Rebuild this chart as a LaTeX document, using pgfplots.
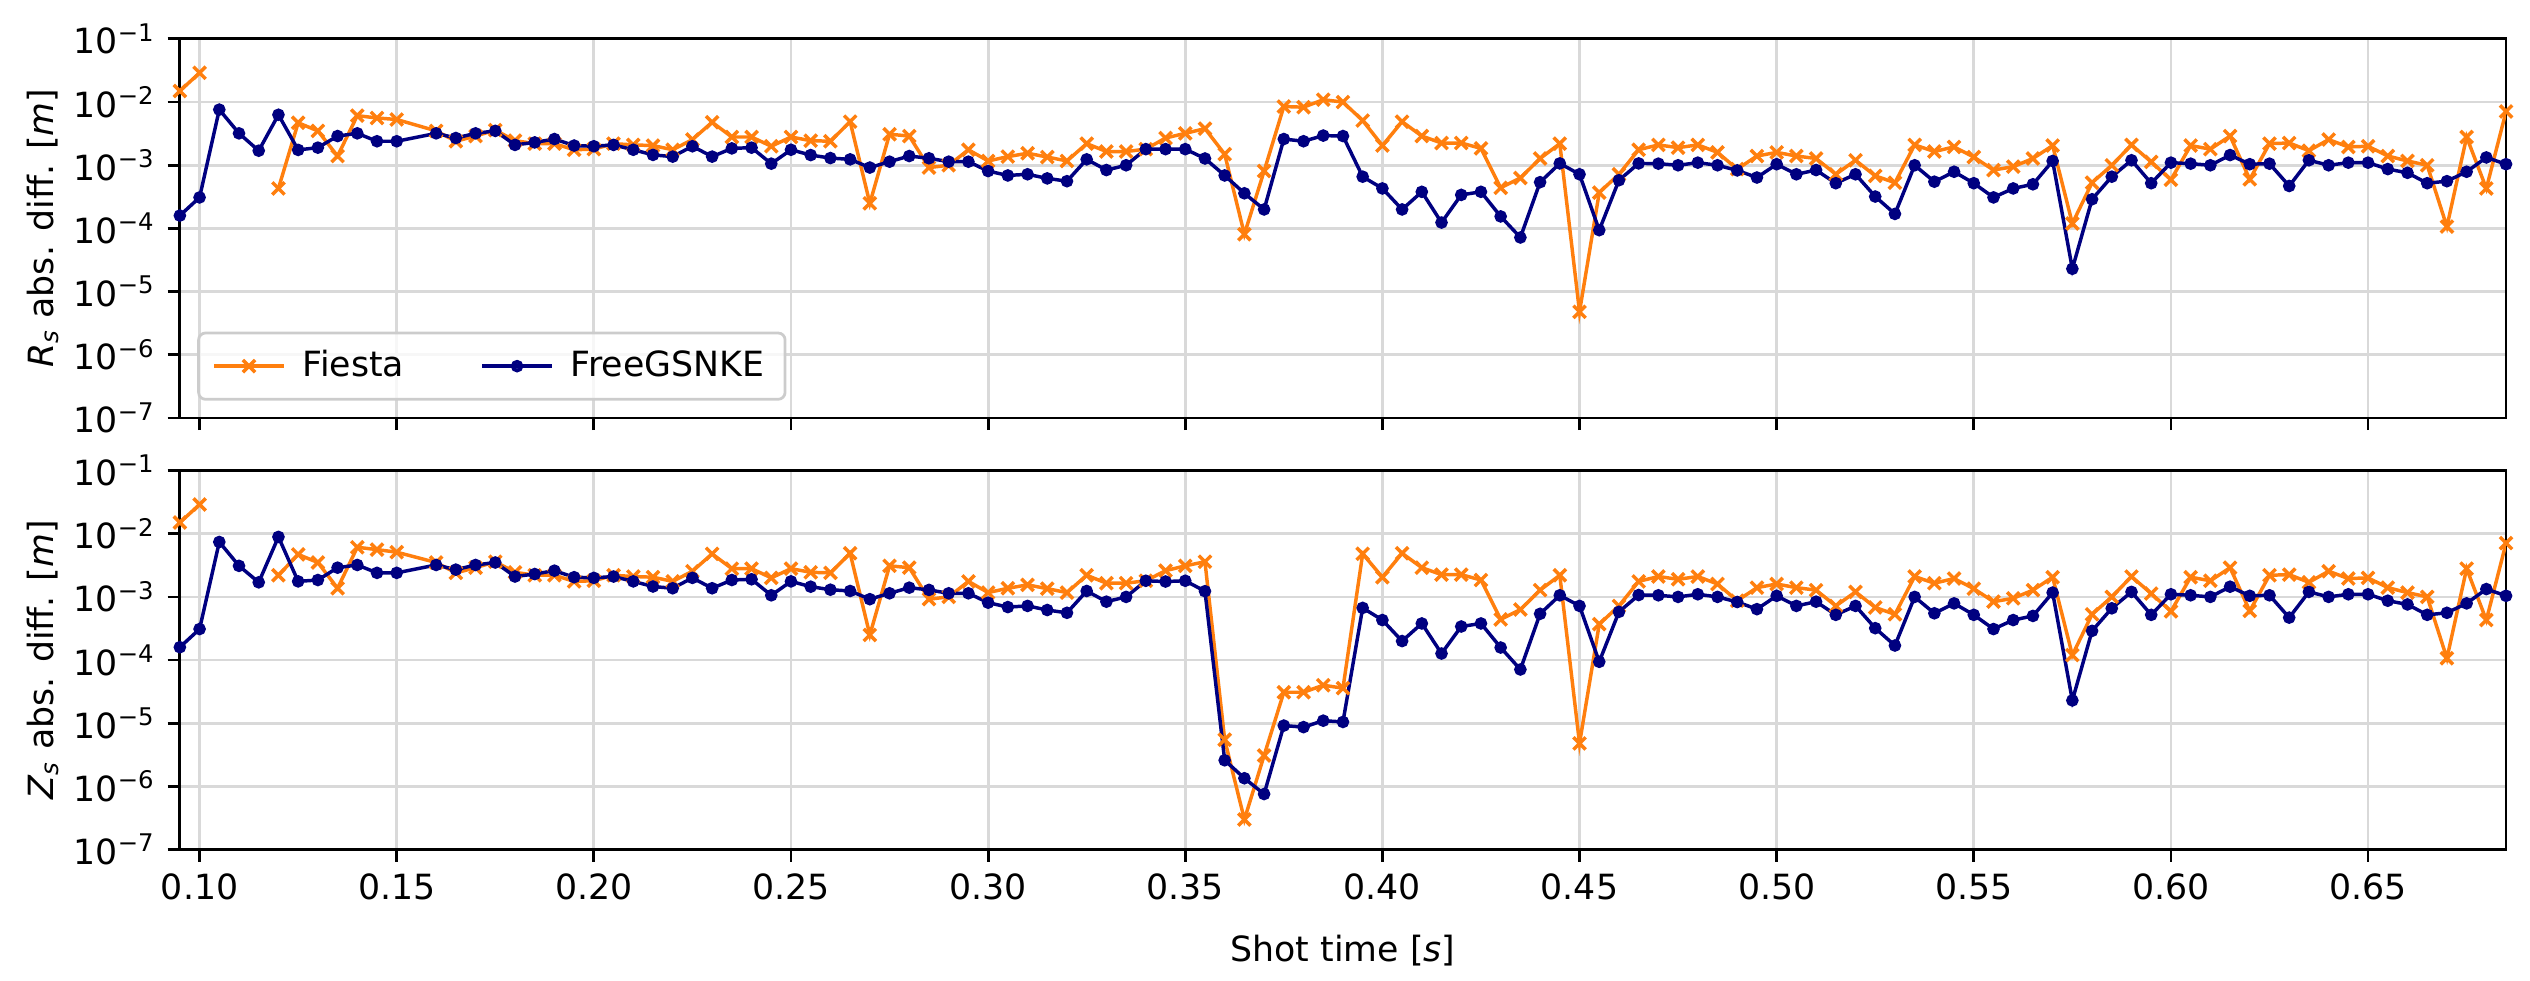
\documentclass[border=0pt]{standalone}
\usepackage{fontspec}
\setmainfont{DejaVu Sans}
\usepackage{pgfplots}
\usepackage{pgfplotstable}
\pgfplotsset{compat=1.18}
\definecolor{forange}{HTML}{FF7F0E}
\definecolor{fnavy}{HTML}{000080}
\definecolor{gridgray}{HTML}{D9D9D9}
\definecolor{leggray}{HTML}{CCCCCC}

\pgfplotstableread{
t fiesta free
0.095 1.5e-2 1.6e-4
0.100 2.9e-2 3.1e-4
0.105 nan 7.6e-3
0.110 nan 3.2e-3
0.115 nan 1.7e-3
0.120 4.3e-4 6.3e-3
0.125 4.7e-3 1.75e-3
0.130 3.5e-3 1.9e-3
0.135 1.4e-3 2.9e-3
0.140 6.1e-3 3.2e-3
0.145 5.6e-3 2.4e-3
0.150 5.3e-3 2.4e-3
0.160 3.5e-3 3.2e-3
0.165 2.4e-3 2.7e-3
0.170 2.9e-3 3.2e-3
0.175 3.6e-3 3.5e-3
0.180 2.45e-3 2.1e-3
0.185 2.2e-3 2.3e-3
0.190 2.2e-3 2.6e-3
0.195 1.76e-3 2.05e-3
0.200 1.8e-3 2.0e-3
0.205 2.2e-3 2.1e-3
0.210 2.1e-3 1.76e-3
0.215 2.05e-3 1.46e-3
0.220 1.76e-3 1.37e-3
0.225 2.55e-3 2.0e-3
0.230 4.8e-3 1.37e-3
0.235 2.8e-3 1.85e-3
0.240 2.8e-3 1.9e-3
0.245 2.0e-3 1.06e-3
0.250 2.8e-3 1.76e-3
0.255 2.45e-3 1.45e-3
0.260 2.4e-3 1.3e-3
0.265 4.9e-3 1.24e-3
0.270 2.5e-4 9.2e-4
0.275 3.1e-3 1.14e-3
0.280 2.9e-3 1.4e-3
0.285 9.2e-4 1.29e-3
0.290 1.0e-3 1.14e-3
0.295 1.76e-3 1.14e-3
0.300 1.17e-3 8.1e-4
0.305 1.37e-3 6.9e-4
0.310 1.55e-3 7.2e-4
0.315 1.35e-3 6.2e-4
0.320 1.17e-3 5.6e-4
0.325 2.2e-3 1.24e-3
0.330 1.65e-3 8.4e-4
0.335 1.65e-3 1.0e-3
0.340 1.8e-3 1.8e-3
0.345 2.7e-3 1.8e-3
0.350 3.2e-3 1.8e-3
0.355 3.8e-3 1.28e-3
0.360 1.5e-3 6.9e-4
0.365 8.1e-5 3.6e-4
0.370 8.1e-4 2.0e-4
0.375 8.5e-3 2.6e-3
0.380 8.3e-3 2.4e-3
0.385 1.09e-2 2.95e-3
0.390 1.0e-2 2.9e-3
0.395 5.1e-3 6.6e-4
0.400 2.05e-3 4.3e-4
0.405 4.9e-3 2.0e-4
0.410 2.9e-3 3.8e-4
0.415 2.25e-3 1.24e-4
0.420 2.25e-3 3.4e-4
0.425 1.85e-3 3.8e-4
0.430 4.4e-4 1.55e-4
0.435 6.3e-4 7.2e-5
0.440 1.28e-3 5.4e-4
0.445 2.2e-3 1.07e-3
0.450 4.8e-6 7.2e-4
0.455 3.7e-4 9.4e-5
0.460 7.2e-4 5.8e-4
0.465 1.76e-3 1.07e-3
0.470 2.1e-3 1.06e-3
0.475 1.9e-3 1.0e-3
0.480 2.1e-3 1.1e-3
0.485 1.6e-3 1.0e-3
0.490 8.7e-4 8.3e-4
0.495 1.4e-3 6.4e-4
0.500 1.6e-3 1.04e-3
0.505 1.4e-3 7.2e-4
0.510 1.28e-3 8.4e-4
0.515 7.2e-4 5.2e-4
0.520 1.2e-3 7.2e-4
0.525 6.8e-4 3.2e-4
0.530 5.3e-4 1.7e-4
0.535 2.1e-3 1.0e-3
0.540 1.65e-3 5.5e-4
0.545 1.95e-3 7.9e-4
0.550 1.35e-3 5.2e-4
0.555 8.4e-4 3.1e-4
0.560 9.5e-4 4.3e-4
0.565 1.28e-3 5.0e-4
0.570 2.05e-3 1.17e-3
0.575 1.2e-4 2.3e-5
0.580 5.3e-4 2.9e-4
0.585 1.0e-3 6.6e-4
0.590 2.1e-3 1.2e-3
0.595 1.13e-3 5.2e-4
0.600 5.9e-4 1.1e-3
0.605 2.05e-3 1.06e-3
0.610 1.8e-3 1.0e-3
0.615 2.9e-3 1.45e-3
0.620 6.0e-4 1.04e-3
0.625 2.2e-3 1.06e-3
0.630 2.25e-3 4.7e-4
0.635 1.7e-3 1.2e-3
0.640 2.55e-3 1.0e-3
0.645 1.95e-3 1.1e-3
0.650 2.0e-3 1.1e-3
0.655 1.4e-3 8.7e-4
0.660 1.17e-3 7.6e-4
0.665 1.0e-3 5.2e-4
0.670 1.07e-4 5.6e-4
0.675 2.8e-3 7.9e-4
0.680 4.3e-4 1.33e-3
0.685 7.1e-3 1.04e-3
}\Rtable

\pgfplotstableread{
t fiesta free
0.095 1.5e-2 1.6e-4
0.100 2.9e-2 3.1e-4
0.105 nan 7.4e-3
0.110 nan 3.1e-3
0.115 nan 1.7e-3
0.120 2.2e-3 8.9e-3
0.125 4.7e-3 1.76e-3
0.130 3.5e-3 1.85e-3
0.135 1.37e-3 2.9e-3
0.140 6.1e-3 3.2e-3
0.145 5.6e-3 2.4e-3
0.150 5.1e-3 2.4e-3
0.160 3.5e-3 3.2e-3
0.165 2.4e-3 2.7e-3
0.170 2.9e-3 3.2e-3
0.175 3.6e-3 3.5e-3
0.180 2.45e-3 2.1e-3
0.185 2.2e-3 2.3e-3
0.190 2.2e-3 2.6e-3
0.195 1.76e-3 2.05e-3
0.200 1.8e-3 2.0e-3
0.205 2.2e-3 2.1e-3
0.210 2.1e-3 1.76e-3
0.215 2.05e-3 1.46e-3
0.220 1.76e-3 1.37e-3
0.225 2.55e-3 2.0e-3
0.230 4.8e-3 1.37e-3
0.235 2.8e-3 1.85e-3
0.240 2.8e-3 1.9e-3
0.245 2.0e-3 1.06e-3
0.250 2.8e-3 1.76e-3
0.255 2.45e-3 1.45e-3
0.260 2.4e-3 1.3e-3
0.265 4.9e-3 1.24e-3
0.270 2.5e-4 9.2e-4
0.275 3.1e-3 1.14e-3
0.280 2.9e-3 1.4e-3
0.285 9.2e-4 1.29e-3
0.290 1.0e-3 1.14e-3
0.295 1.76e-3 1.14e-3
0.300 1.17e-3 8.1e-4
0.305 1.37e-3 6.9e-4
0.310 1.55e-3 7.2e-4
0.315 1.35e-3 6.2e-4
0.320 1.17e-3 5.6e-4
0.325 2.2e-3 1.24e-3
0.330 1.65e-3 8.4e-4
0.335 1.65e-3 1.0e-3
0.340 1.8e-3 1.8e-3
0.345 2.6e-3 1.75e-3
0.350 3.1e-3 1.8e-3
0.355 3.6e-3 1.23e-3
0.360 5.5e-6 2.6e-6
0.365 3.0e-7 1.35e-6
0.370 3.1e-6 7.6e-7
0.375 3.1e-5 9.2e-6
0.380 3.1e-5 8.7e-6
0.385 4.0e-5 1.1e-5
0.390 3.6e-5 1.05e-5
0.395 4.8e-3 6.7e-4
0.400 2.05e-3 4.3e-4
0.405 4.9e-3 2.0e-4
0.410 2.9e-3 3.8e-4
0.415 2.25e-3 1.27e-4
0.420 2.25e-3 3.4e-4
0.425 1.85e-3 3.8e-4
0.430 4.4e-4 1.58e-4
0.435 6.3e-4 7.1e-5
0.440 1.28e-3 5.4e-4
0.445 2.2e-3 1.06e-3
0.450 4.8e-6 7.2e-4
0.455 3.7e-4 9.4e-5
0.460 7.2e-4 5.8e-4
0.465 1.76e-3 1.07e-3
0.470 2.1e-3 1.06e-3
0.475 1.9e-3 1.0e-3
0.480 2.1e-3 1.1e-3
0.485 1.6e-3 1.0e-3
0.490 8.7e-4 8.3e-4
0.495 1.4e-3 6.4e-4
0.500 1.6e-3 1.04e-3
0.505 1.4e-3 7.2e-4
0.510 1.28e-3 8.4e-4
0.515 7.2e-4 5.2e-4
0.520 1.2e-3 7.2e-4
0.525 6.8e-4 3.2e-4
0.530 5.3e-4 1.7e-4
0.535 2.1e-3 1.0e-3
0.540 1.65e-3 5.5e-4
0.545 1.95e-3 7.9e-4
0.550 1.35e-3 5.2e-4
0.555 8.4e-4 3.1e-4
0.560 9.5e-4 4.3e-4
0.565 1.28e-3 5.0e-4
0.570 2.05e-3 1.17e-3
0.575 1.2e-4 2.3e-5
0.580 5.3e-4 2.9e-4
0.585 1.0e-3 6.6e-4
0.590 2.1e-3 1.2e-3
0.595 1.13e-3 5.2e-4
0.600 5.9e-4 1.1e-3
0.605 2.05e-3 1.06e-3
0.610 1.8e-3 1.0e-3
0.615 2.9e-3 1.45e-3
0.620 6.0e-4 1.04e-3
0.625 2.2e-3 1.06e-3
0.630 2.25e-3 4.7e-4
0.635 1.7e-3 1.2e-3
0.640 2.55e-3 1.0e-3
0.645 1.95e-3 1.1e-3
0.650 2.0e-3 1.1e-3
0.655 1.4e-3 8.7e-4
0.660 1.17e-3 7.6e-4
0.665 1.0e-3 5.2e-4
0.670 1.07e-4 5.6e-4
0.675 2.8e-3 7.9e-4
0.680 4.3e-4 1.33e-3
0.685 7.1e-3 1.04e-3
}\Ztable

\begin{document}
\begin{tikzpicture}
\useasboundingbox (0,0) rectangle (728.6pt,282.5pt);
\begin{axis}[
    ymode=log,
    scale only axis, width=669.9pt, height=109.2pt, anchor=south west,
    at={(51.8pt,162.1pt)},
    xmin=0.095, xmax=0.685, ymin=1e-7, ymax=1e-1,
    ytick={1e-7,1e-6,1e-5,1e-4,1e-3,1e-2,1e-1},
    yticklabels={10\textsuperscript{−7},10\textsuperscript{−6},10\textsuperscript{−5},10\textsuperscript{−4},10\textsuperscript{−3},10\textsuperscript{−2},10\textsuperscript{−1}},
    xtick={0.10,0.15,0.20,0.25,0.30,0.35,0.40,0.45,0.50,0.55,0.60,0.65},
    xticklabels={},
    yminorticks=false, xminorticks=false,
    grid=major, major grid style={line width=0.8pt, color=gridgray},
    axis line style={line width=0.8pt},
    tick style={line width=0.8pt, black},
    tick align=outside, major tick length=3.5pt,
    tick pos=left,
    ylabel={\textit{R}\textsubscript{\textit{s}} abs. diff. [\textit{m}]},
    ylabel style={at={(axis description cs:-0.0588,0.5)}, rotate=0, anchor=center},
    unbounded coords=jump,
    legend image code/.code={\draw[mark repeat=2,mark phase=2] plot coordinates {(0pt,0pt)(10pt,0pt)(20pt,0pt)};},
    legend columns=2,
    legend style={at={(axis description cs:0,0)}, anchor=south west, xshift=5pt, yshift=5pt,
      draw=leggray, line width=0.8pt, rounded corners=2pt, fill=white, fill opacity=0.8, text opacity=1,
      inner xsep=4pt, inner ysep=3pt,
      /tikz/every odd column/.append style={column sep=3pt},
      /tikz/every even column/.append style={column sep=20pt}},
    legend cell align=left]
\addplot[color=forange, line width=1pt, mark=x, mark size=2.5pt, mark options={solid}] table[x=t, y=fiesta] {\Rtable};
\addlegendentry{Fiesta}
\addplot[color=fnavy, line width=1pt, mark=*, mark size=1.3pt, mark options={solid}] table[x=t, y=free] {\Rtable};
\addlegendentry{FreeGSNKE}
\end{axis}
\begin{axis}[
    ymode=log,
    scale only axis, width=669.9pt, height=109.2pt, anchor=south west,
    at={(51.8pt,37.8pt)},
    xmin=0.095, xmax=0.685, ymin=1e-7, ymax=1e-1,
    ytick={1e-7,1e-6,1e-5,1e-4,1e-3,1e-2,1e-1},
    yticklabels={10\textsuperscript{−7},10\textsuperscript{−6},10\textsuperscript{−5},10\textsuperscript{−4},10\textsuperscript{−3},10\textsuperscript{−2},10\textsuperscript{−1}},
    xtick={0.10,0.15,0.20,0.25,0.30,0.35,0.40,0.45,0.50,0.55,0.60,0.65},
    xticklabels={0.10,0.15,0.20,0.25,0.30,0.35,0.40,0.45,0.50,0.55,0.60,0.65},
    yminorticks=false, xminorticks=false,
    grid=major, major grid style={line width=0.8pt, color=gridgray},
    axis line style={line width=0.8pt},
    tick style={line width=0.8pt, black},
    tick align=outside, major tick length=3.5pt,
    tick pos=left,
    ylabel={\textit{Z}\textsubscript{\textit{s}} abs. diff. [\textit{m}]},
    ylabel style={at={(axis description cs:-0.0588,0.5)}, rotate=0, anchor=center},
    xlabel={Shot time [\textit{s}]},
    xlabel style={at={(axis description cs:0.5,-0.267)}, anchor=center},
    unbounded coords=jump]
\addplot[color=forange, line width=1pt, mark=x, mark size=2.5pt, mark options={solid}] table[x=t, y=fiesta] {\Ztable};
\addplot[color=fnavy, line width=1pt, mark=*, mark size=1.3pt, mark options={solid}] table[x=t, y=free] {\Ztable};
\end{axis}
\end{tikzpicture}
\end{document}
